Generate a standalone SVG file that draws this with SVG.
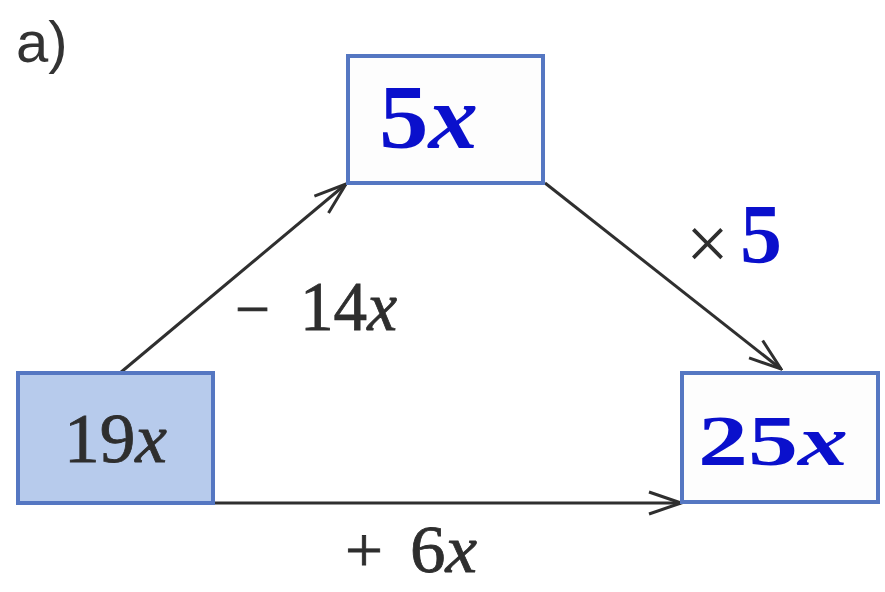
<svg xmlns="http://www.w3.org/2000/svg" width="885" height="592" viewBox="0 0 885 592">
<defs>
<style>
.box{stroke:#5577c2;stroke-width:4;fill:#fdfdfd}
.shaded{fill:#b7cbec}
.conn{stroke:#2f2f2f;stroke-width:3;fill:none}
.dark{font-family:"Liberation Serif",serif;fill:#2e2e2e;stroke:#2e2e2e;stroke-width:0.8}
.blue{font-family:"Liberation Serif",serif;font-weight:bold;fill:#0a10cc}
</style>
<marker id="ah" markerUnits="userSpaceOnUse" viewBox="-36 -14 38 28" refX="0" refY="0" markerWidth="38" markerHeight="28" orient="auto">
<path d="M-32,-11 L0,0 L-32,11" stroke="#2f2f2f" stroke-width="3" fill="none"/>
</marker>
</defs>
<rect width="885" height="592" fill="#ffffff"/>
<text x="16" y="62" font-family="Liberation Sans, sans-serif" font-size="58" fill="#333">a)</text>
<g id="connectors">
<line class="conn" x1="120" y1="373" x2="346" y2="184" marker-end="url(#ah)"/>
<line class="conn" x1="545" y1="183" x2="781" y2="369" marker-end="url(#ah)"/>
<line class="conn" x1="214" y1="503" x2="681" y2="503" marker-end="url(#ah)"/>
<g id="label-minus14x">
<text class="dark" x="235" y="330" font-size="62" textLength="35" lengthAdjust="spacingAndGlyphs">−</text>
<text class="dark" x="300" y="330" font-size="70" textLength="97" lengthAdjust="spacingAndGlyphs"><tspan>14</tspan><tspan font-style="italic">x</tspan></text>
</g>
<g id="label-times5">
<text class="dark" x="686" y="269" font-size="76" style="stroke-width:0">×</text>
<text class="blue" x="740" y="263" font-size="84">5</text>
</g>
<g id="label-plus6x">
<text class="dark" x="345" y="572" font-size="64" textLength="38" lengthAdjust="spacingAndGlyphs">+</text>
<text class="dark" x="410" y="572" font-size="68" textLength="67" lengthAdjust="spacingAndGlyphs"><tspan>6</tspan><tspan font-style="italic">x</tspan></text>
</g>
</g>
<g id="node-19x">
<rect class="box shaded" x="18" y="373" width="195" height="130"/>
<text class="dark" x="64" y="462" font-size="70" textLength="103" lengthAdjust="spacingAndGlyphs"><tspan>19</tspan><tspan font-style="italic">x</tspan></text>
</g>
<g id="node-5x">
<rect class="box" x="348" y="56" width="195" height="127"/>
<text class="blue" x="379" y="148" font-size="90" textLength="99" lengthAdjust="spacingAndGlyphs"><tspan>5</tspan><tspan font-style="italic">x</tspan></text>
</g>
<g id="node-25x">
<rect class="box" x="682" y="373" width="196" height="129"/>
<text class="blue" x="698" y="465" font-size="71" textLength="150" lengthAdjust="spacingAndGlyphs"><tspan>25</tspan><tspan font-style="italic">x</tspan></text>
</g>
</svg>
